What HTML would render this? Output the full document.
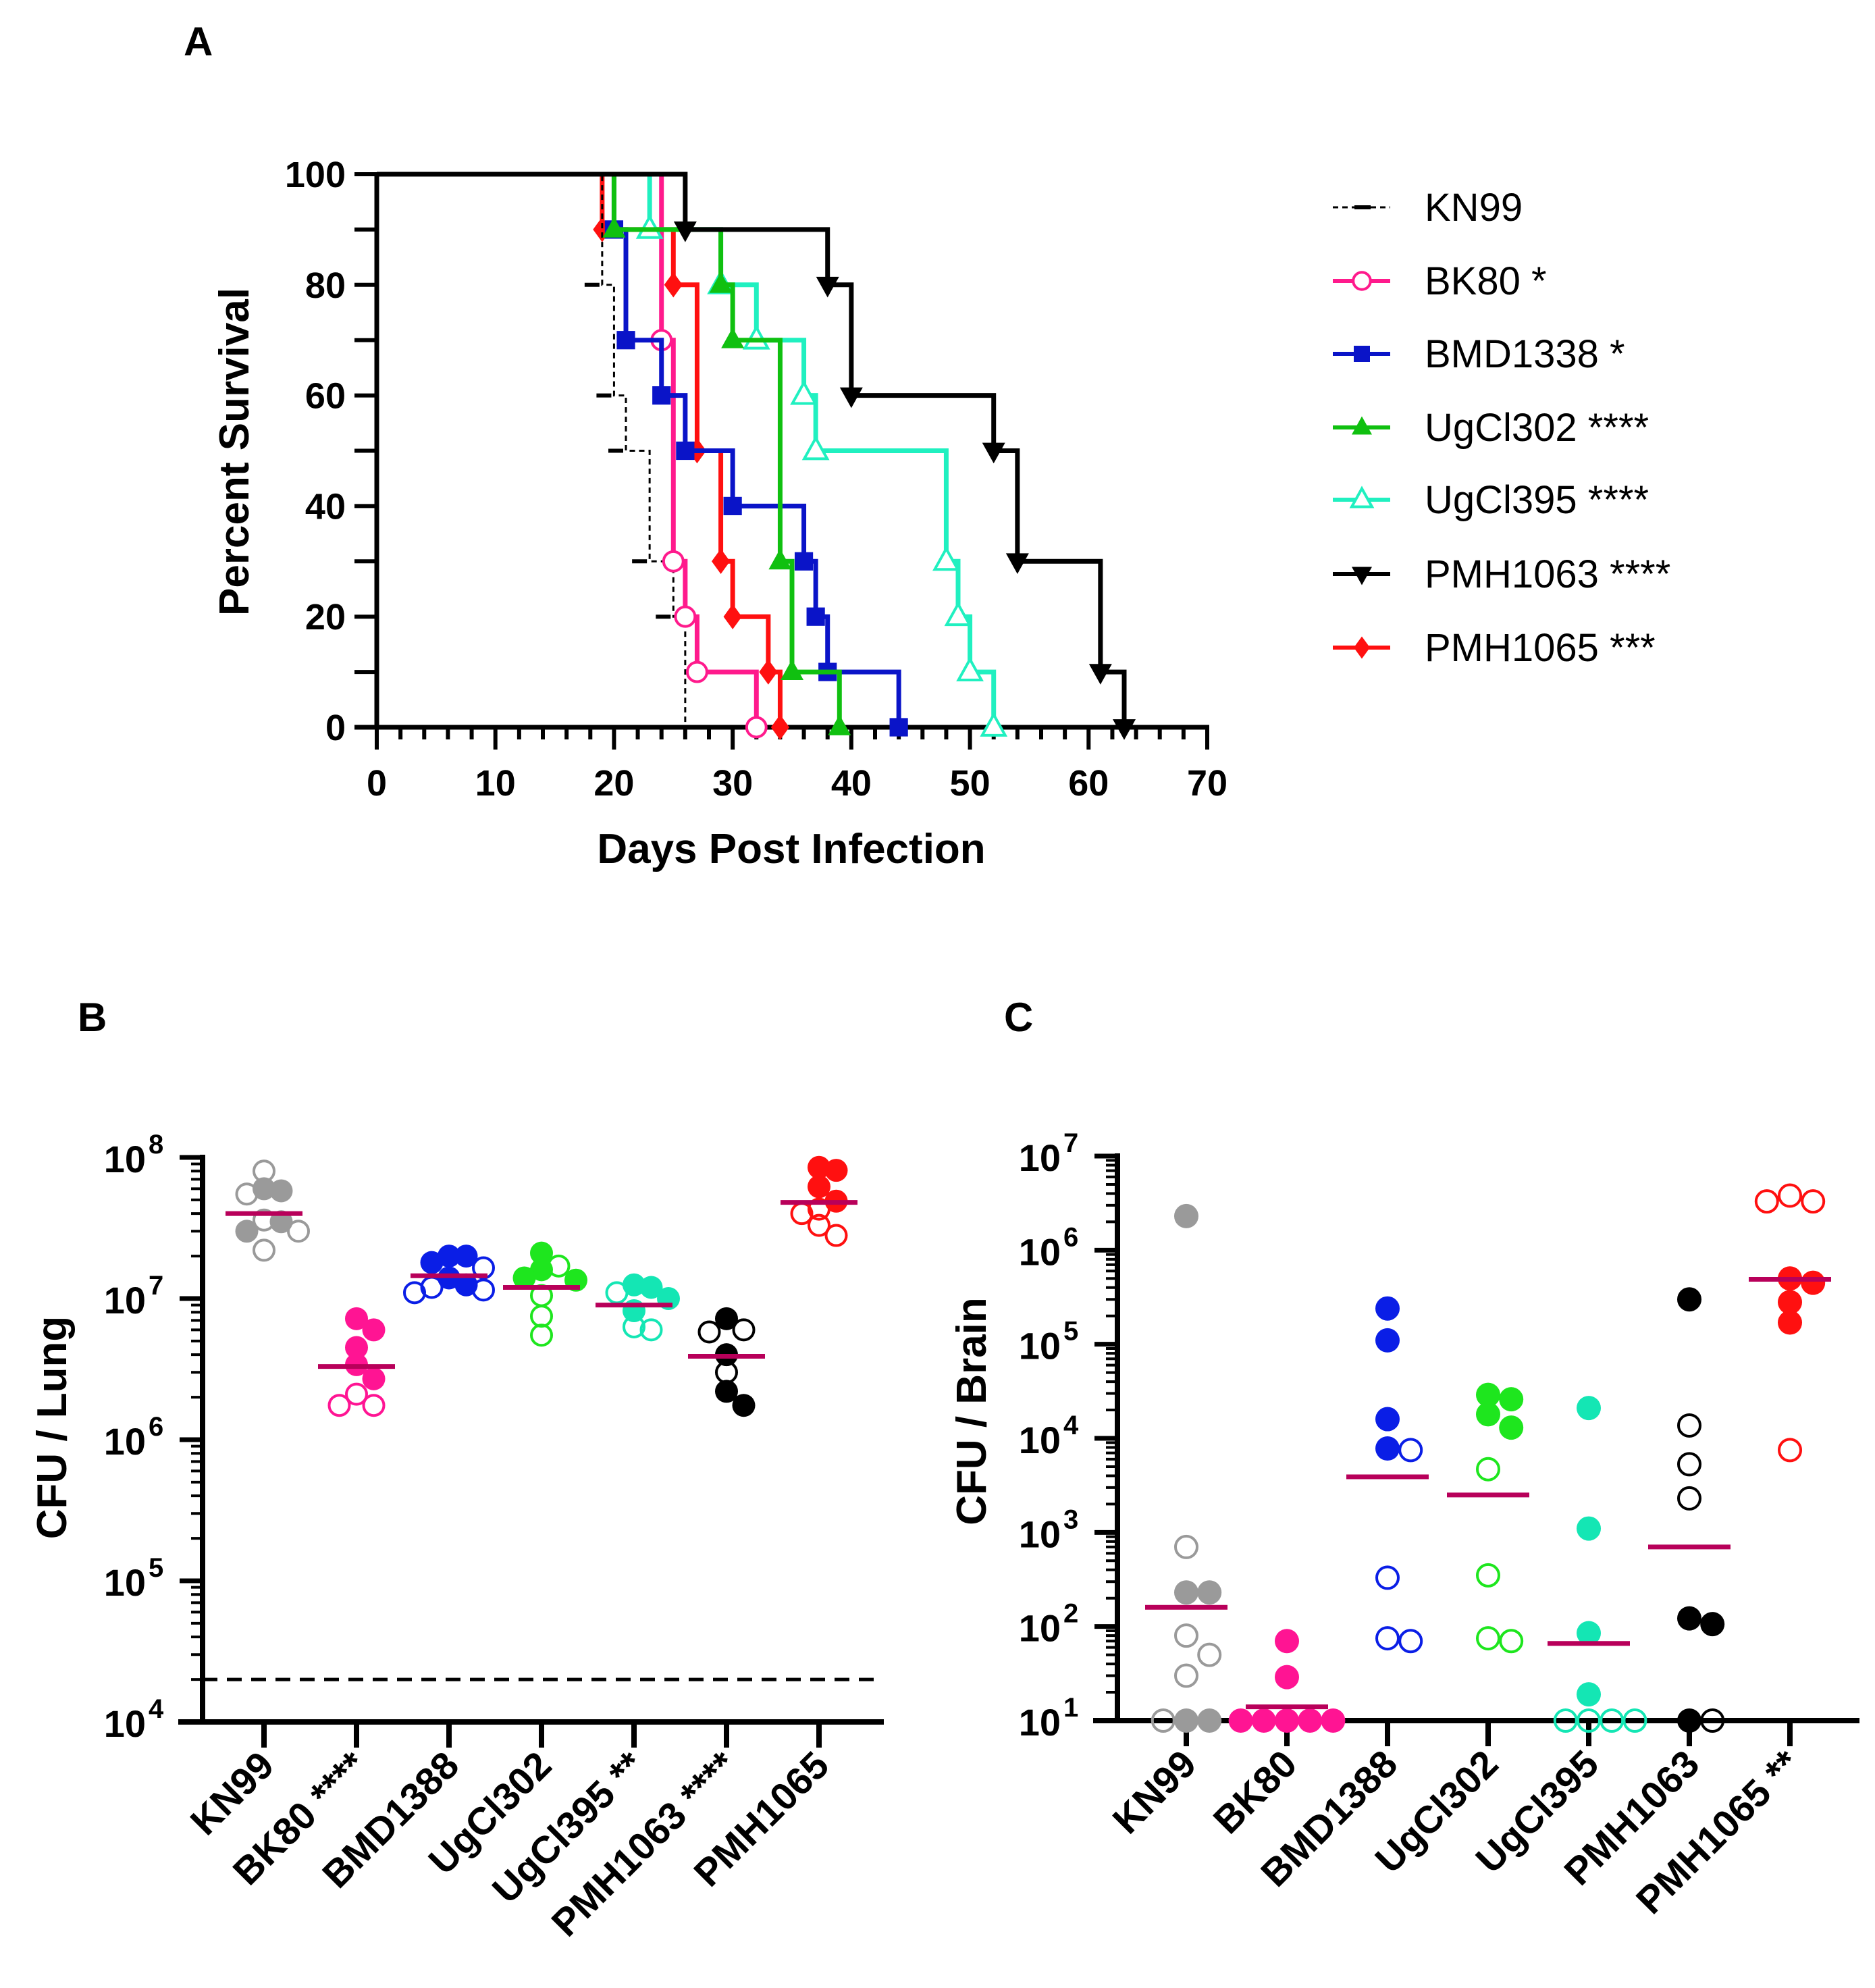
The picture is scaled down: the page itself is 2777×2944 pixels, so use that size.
<!DOCTYPE html>
<html><head><meta charset="utf-8"><style>
html,body{margin:0;padding:0;background:#fff}
svg{display:block;font-family:"Liberation Sans",Arial,sans-serif}
</style></head><body>
<svg id="fig" width="2777" height="2944" viewBox="0 0 2777 2944" xmlns="http://www.w3.org/2000/svg">
<g id="gA"></g>
<g id="gB"></g>
<g id="gC"></g>
</svg>
<script>
// ---------- Panel A data ----------
const survNames = ["KN99","BK80 *","BMD1338 *","UgCl302 ****","UgCl395 ****","PMH1063 ****","PMH1065 ***"];
const survColors = ["#000000","#ff1a8c","#0a14c8","#10c010","#20f0c0","#000000","#ff1010"];
const kn99Days = [19,20,21,23,25,26];
const kn99Surv = [80,60,50,30,20,0];
const bk80Days = [24,25,26,27,32];
const bk80Surv = [70,30,20,10,0];
const bmdDays = [20,21,24,26,30,36,37,38,44];
const bmdSurv = [90,70,60,50,40,30,20,10,0];
const ug302Days = [20,29,30,34,35,39];
const ug302Surv = [90,80,70,30,10,0];
const ug395Days = [23,29,32,36,37,48,49,50,52];
const ug395Surv = [90,80,70,60,50,30,20,10,0];
const pmh1063Days = [26,38,40,52,54,61,63];
const pmh1063Surv = [90,80,60,50,30,10,0];
const pmh1065Days = [19,25,27,29,30,33,34];
const pmh1065Surv = [90,80,50,30,20,10,0];
const xTicksA = [0,10,20,30,40,50,60,70];
const yTicksA = [0,20,40,60,80,100];

// ---------- Panel B data ----------
const catsB = ["KN99","BK80 ****","BMD1388","UgCl302","UgCl395 **","PMH1063 ****","PMH1065"];
const lungFilled = [
 [6e7,5.8e7,3.0e7,3.5e7],
 [7.2e6,6e6,4.5e6,3.4e6,2.7e6],
 [2e7,2e7,1.8e7,1.4e7,1.25e7],
 [2.1e7,1.6e7,1.35e7,1.4e7],
 [1.25e7,1.2e7,1.0e7,8.2e6],
 [7.2e6,4e6,2.2e6,1.75e6],
 [8.1e7,8.5e7,6.2e7,4.9e7]];
const lungOpen = [
 [8e7,5.5e7,3.0e7,3.6e7,2.2e7],
 [2.1e6,1.75e6,1.75e6],
 [1.65e7,1.2e7,1.1e7,1.15e7],
 [1.7e7,1.05e7,7.5e6,5.5e6],
 [1.1e7,6.3e6,6e6],
 [6e6,5.8e6,3e6],
 [4.3e7,4e7,3.3e7,2.8e7]];
const lungMeans = [4e7,3.3e6,1.45e7,1.2e7,9e6,3.9e6,4.8e7];
const lungLimit = 2e4;
const yDecadesB = [4,5,6,7,8];

// ---------- Panel C data ----------
const catsC = ["KN99","BK80","BMD1388","UgCl302","UgCl395","PMH1063","PMH1065 **"];
const brainFilled = [
 [2.3e6,230,230,10,10],
 [70,29,10,10,10,10,10],
 [2.4e5,1.1e5,1.6e4,7.8e3],
 [2.9e4,2.6e4,1.8e4,1.3e4],
 [2.1e4,1.1e3,85,19],
 [3e5,106,122,10],
 [4.5e5,5e5,2.8e5,1.7e5]];
const brainOpen = [
 [700,80,50,30,10],
 [],
 [7.5e3,330,70,75],
 [4.7e3,350,70,75],
 [10,10,10,10],
 [1.37e4,5.3e3,2.3e3,10],
 [3.3e6,3.3e6,3.8e6,7.5e3]];
const brainMeans = [160,14,3.9e3,2.5e3,66,700,4.9e5];
const yDecadesC = [1,2,3,4,5,6,7];
const colorsBC = ["#9a9a9a","#ff1493","#0a1ee6","#1ee61e","#14e6b4","#000000","#ff1010"];

// ---------- helpers ----------
const NS="http://www.w3.org/2000/svg";
function mk(parent,tag,attrs,text){const e=document.createElementNS(NS,tag);for(const k in attrs)e.setAttribute(k,attrs[k]);if(text!==undefined)e.textContent=text;parent.appendChild(e);return e;}

// ================= Panel A =================
(function(){
 const g=document.getElementById('gA');
 const X0=558,X1=1788,Y100=258,Y0=1077;
 const xs=d=>X0+(X1-X0)*d/70, ys=v=>Y0-(Y0-Y100)*v/100;
 let t=mk(g,'text',{x:272,y:82,'font-size':60,'font-weight':'bold'},'A');
 
 let ax=mk(g,'line',{x1:X0,y1:Y100-3,x2:X0,y2:Y0,stroke:'#000','stroke-width':7});
 
 ax=mk(g,'line',{x1:525,y1:Y0,x2:X1+3,y2:Y0,stroke:'#000','stroke-width':7});
 
 for(let v=0;v<=100;v+=10){mk(g,'line',{x1:525,y1:ys(v),x2:X0,y2:ys(v),stroke:'#000','stroke-width':6});}
 yTicksA.forEach(v=>{const e=mk(g,'text',{x:512,y:ys(v)+19,'font-size':54,'font-weight':'bold','text-anchor':'end'},String(v));
  });
 for(let d=0;d<=70;d+=2){const major=d%10===0;mk(g,'line',{x1:xs(d),y1:Y0,x2:xs(d),y2:Y0+(major?33:18),stroke:'#000','stroke-width':6});}
 xTicksA.forEach(d=>{const e=mk(g,'text',{x:xs(d),y:1178,'font-size':54,'font-weight':'bold','text-anchor':'middle'},String(d));
  });
 let yt=mk(g,'text',{x:0,y:0,'font-size':62,'font-weight':'bold','text-anchor':'middle',transform:'translate(368,669) rotate(-90)'},'Percent Survival');
 
 let xt=mk(g,'text',{x:1172,y:1278,'font-size':62,'font-weight':'bold','text-anchor':'middle'},'Days Post Infection');
 

 const series=[[kn99Days,kn99Surv],[bk80Days,bk80Surv],[bmdDays,bmdSurv],[ug302Days,ug302Surv],[ug395Days,ug395Surv],[pmh1063Days,pmh1063Surv],[pmh1065Days,pmh1065Surv]];
 const mkrTypes=['dash','ocircle','square','tri','otri','itri','diamond'];
 function marker(par,type,x,y,c,s){
  let e;
  if(type==='dash') e=mk(par,'line',{x1:x-26,y1:y,x2:x-4,y2:y,stroke:c,'stroke-width':6});
  else if(type==='ocircle') e=mk(par,'circle',{cx:x,cy:y,r:s*0.85,fill:'#fff',stroke:c,'stroke-width':4});
  else if(type==='square') e=mk(par,'rect',{x:x-s*0.8,y:y-s*0.8,width:s*1.6,height:s*1.6,fill:c});
  else if(type==='tri') e=mk(par,'polygon',{points:`${x},${y-s*1.1} ${x-s},${y+s*0.7} ${x+s},${y+s*0.7}`,fill:c});
  else if(type==='otri') e=mk(par,'polygon',{points:`${x},${y-s*1.1} ${x-s},${y+s*0.7} ${x+s},${y+s*0.7}`,fill:'#fff',stroke:c,'stroke-width':4});
  else if(type==='itri') e=mk(par,'polygon',{points:`${x},${y+s*1.1} ${x-s},${y-s*0.7} ${x+s},${y-s*0.7}`,fill:c});
  else e=mk(par,'polygon',{points:`${x},${y-s*1.1} ${x-s*0.8},${y} ${x},${y+s*1.1} ${x+s*0.8},${y}`,fill:c});
  return e;
 }
 const order=[6,0,1,2,4,3,5];
 order.forEach(i=>{
  const [days,surv]=series[i];const c=survColors[i];
  const sg=mk(g,'g',{});
  
  
  let d=`M${xs(0)},${ys(100)}`;
  days.forEach((dd,k)=>{d+=` H${xs(dd)} V${ys(surv[k])}`;});
  mk(sg,'path',{d:d,fill:'none',stroke:c,'stroke-width':i===0?3:7,'stroke-dasharray':i===0?'8 6':'none'});
  days.forEach((dd,k)=>{const m=marker(sg,mkrTypes[i],xs(dd),ys(surv[k]),c,17);
   });
 });
 const legY=[307,416,524,633,740,850,959];
 survNames.forEach((n,i)=>{
  const lg=mk(g,'g',{});
  
  mk(lg,'line',{x1:1974,y1:legY[i],x2:2059,y2:legY[i],stroke:survColors[i],'stroke-width':i===0?3:6,'stroke-dasharray':i===0?'8 6':'none'});
  if(i===0) mk(lg,'line',{x1:2006,y1:legY[i],x2:2030,y2:legY[i],stroke:'#000','stroke-width':6});
  else marker(lg,mkrTypes[i],2017,legY[i],survColors[i],15);
  mk(lg,'text',{x:2110,y:legY[i]+20,'font-size':58},n);
 });
})();

// ================= Panels B & C =================
function dotPlot(gid,opt){
 const g=document.getElementById(gid);
 const {AX,XEND,YTOP,YBOT,dMin,dMax,x0,dx,cats,filled,open,means,r,halfLen,label,labelPos,title,titleX,titleY,decades}=opt;
 const ys=v=>YBOT-(YBOT-YTOP)*(Math.log10(v)-dMin)/(dMax-dMin);
 const xc=i=>x0+dx*i;
 let t=mk(g,'text',{x:labelPos[0],y:labelPos[1],'font-size':60,'font-weight':'bold'},label);
 
 let ax=mk(g,'line',{x1:AX,y1:YTOP-4,x2:AX,y2:YBOT,stroke:'#000','stroke-width':8});
 
 ax=mk(g,'line',{x1:AX-36,y1:YBOT,x2:XEND,y2:YBOT,stroke:'#000','stroke-width':8});
 
 for(let dd=dMin;dd<=dMax;dd++){
  mk(g,'line',{x1:AX-34,y1:ys(Math.pow(10,dd)),x2:AX,y2:ys(Math.pow(10,dd)),stroke:'#000','stroke-width':7});
  if(dd<dMax)for(let m=2;m<=9;m++){const y=ys(m*Math.pow(10,dd));mk(g,'line',{x1:AX-17,y1:y,x2:AX,y2:y,stroke:'#000','stroke-width':4});}
 }
 decades.forEach(dd=>{
  const e=mk(g,'text',{x:AX-84,y:ys(Math.pow(10,dd))+22,'font-size':56,'font-weight':'bold','text-anchor':'end'},'10');
  
  mk(g,'text',{x:AX-80,y:ys(Math.pow(10,dd))-6,'font-size':40,'font-weight':'bold'},String(dd));
 });
 let yt=mk(g,'text',{x:0,y:0,'font-size':62,'font-weight':'bold','text-anchor':'middle',transform:`translate(${titleX},${titleY}) rotate(-90)`},title);
 
 cats.forEach((c,i)=>{
  mk(g,'line',{x1:xc(i),y1:YBOT,x2:xc(i),y2:YBOT+38,stroke:'#000','stroke-width':8});
  const e=mk(g,'text',{x:0,y:0,'font-size':57,'font-weight':'bold','text-anchor':'end',transform:`translate(${xc(i)+18},${YBOT+68}) rotate(-45)`},c);
  
 });
 if(opt.limit){const l=mk(g,'line',{x1:AX,y1:ys(opt.limit),x2:XEND-10,y2:ys(opt.limit),stroke:'#000','stroke-width':5,'stroke-dasharray':'22 14'});
  }
 cats.forEach((c,i)=>{
  const grp=mk(g,'g',{});
  
  const pts=[];
  filled[i].forEach(v=>pts.push({v,f:true}));
  open[i].forEach(v=>pts.push({v,f:false}));
  pts.sort((a,b)=>b.v-a.v);
  const placed=[];
  const offs=[0,1,-1,2,-2,3,-3];
  pts.forEach(p=>{
   const y=ys(p.v);let ox=xc(i);
   for(const o of offs){const x=xc(i)+o*r*opt.step;
    if(placed.every(q=>Math.hypot(q.x-x,q.y-y)>=r*opt.minD)){ox=x;break;}ox=x;}
   placed.push({x:ox,y});
   const dot=mk(grp,'circle',{cx:ox,cy:y,r:p.f?r:r-2,fill:p.f?colorsBC[i]:'none',stroke:colorsBC[i],'stroke-width':p.f?0:4});
   
  });
  const ml=mk(grp,'line',{x1:xc(i)-halfLen,y1:ys(means[i]),x2:xc(i)+halfLen,y2:ys(means[i]),stroke:'#b8005a','stroke-width':7});
  
 });
}
dotPlot('gB',{AX:300,XEND:1309,YTOP:1714,YBOT:2550,dMin:4,dMax:8,x0:391,dx:137,cats:catsB,filled:lungFilled,open:lungOpen,means:lungMeans,r:17,halfLen:57,step:1.5,minD:1.4,label:'B',labelPos:[115,1527],title:'CFU / Lung',titleX:98,titleY:2114,decades:yDecadesB,limit:lungLimit});
dotPlot('gC',{AX:1655,XEND:2754,YTOP:1712,YBOT:2548,dMin:1,dMax:7,x0:1757,dx:149,cats:catsC,filled:brainFilled,open:brainOpen,means:brainMeans,r:18,halfLen:61,step:1.9,minD:1.6,label:'C',labelPos:[1487,1527],title:'CFU / Brain',titleX:1460,titleY:2090,decades:yDecadesC});
</script>
</body></html>
